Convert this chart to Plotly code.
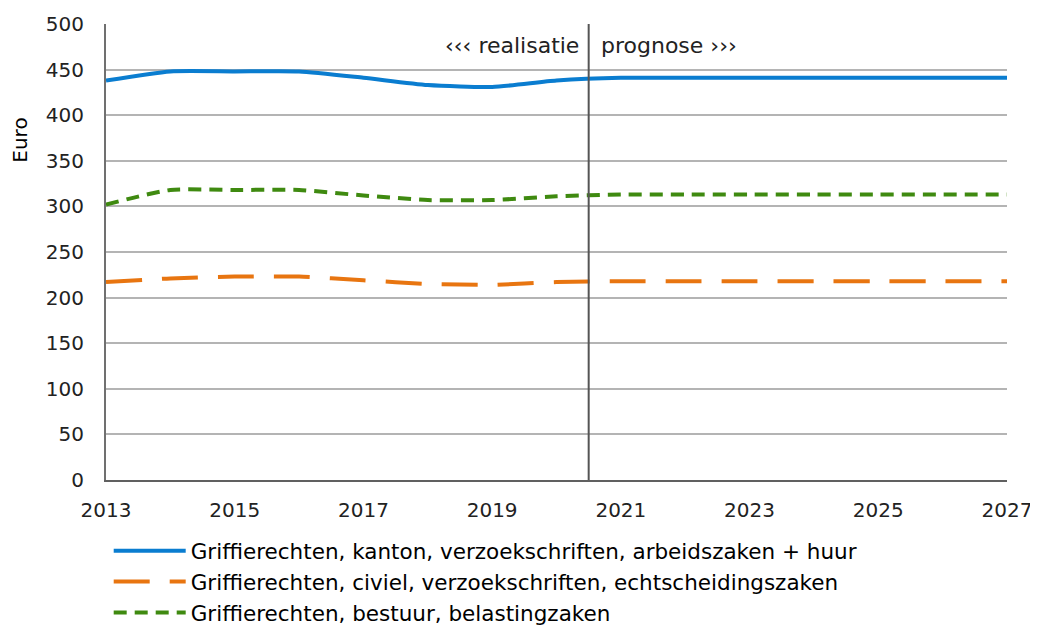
import plotly.graph_objects as go

years = list(range(2013, 2028))
kanton = [438, 448, 448, 448, 441, 433, 431, 438, 441, 441, 441, 441, 441, 441, 441]
civiel = [217, 221, 223, 223, 219, 215, 214, 217, 218, 218, 218, 218, 218, 218, 218]
bestuur = [302, 318, 318, 318, 312, 307, 307, 311, 313, 313, 313, 313, 313, 313, 313]
names = [
    "Griffierechten, kanton, verzoekschriften, arbeidszaken + huur",
    "Griffierechten, civiel, verzoekschriften, echtscheidingszaken",
    "Griffierechten, bestuur, belastingzaken",
]
x_ticks = list(range(2013, 2028, 2))
y_ticks = list(range(0, 501, 50))
split_year = 2020.5

FONT = "DejaVu Sans"
fig = go.Figure()
fig.add_trace(go.Scatter(x=years, y=kanton, name=names[0], mode="lines",
                         line=dict(color="#0a7dd0", width=4, shape="spline", smoothing=0.6)))
fig.add_trace(go.Scatter(x=years, y=civiel, name=names[1], mode="lines",
                         line=dict(color="#e87510", width=4, shape="spline", smoothing=0.6,
                                   dash="36px,20px")))
fig.add_trace(go.Scatter(x=years, y=bestuur, name=names[2], mode="lines",
                         line=dict(color="#3f8a10", width=4, shape="spline", smoothing=0.6,
                                   dash="13px,8px")))

fig.add_shape(type="line", xref="x", yref="paper", x0=split_year, x1=split_year, y0=0, y1=1,
              line=dict(color="#555555", width=2))
fig.add_annotation(x=split_year, y=1, xref="x", yref="paper", xshift=-8, yshift=-21,
                   text="‹‹‹ realisatie", showarrow=False, xanchor="right", yanchor="middle",
                   font=dict(family=FONT, size=22, color="#222"))
fig.add_annotation(x=split_year, y=1, xref="x", yref="paper", xshift=10, yshift=-21,
                   text="prognose ›››", showarrow=False, xanchor="left", yanchor="middle",
                   font=dict(family=FONT, size=22, color="#222"))
fig.add_annotation(x=-0.0956, y=0.746, xref="paper", yref="paper", text="Euro",
                   xanchor="center", yanchor="middle",
                   textangle=-90, showarrow=False, font=dict(family=FONT, size=20, color="#000"))

# page body has an 8px margin, so the figure is offset by 8px right and down
fig.update_layout(
    width=1030, height=621,
    margin=dict(l=98, r=31, t=16, b=149, autoexpand=False),
    plot_bgcolor="white", paper_bgcolor="white",
    font=dict(family=FONT, size=20, color="#000"),
    showlegend=True,
    legend=dict(x=0.003, y=-0.11, xanchor="left", yanchor="top",
                font=dict(family=FONT, size=21.5, color="#000"),
                tracegroupgap=2, itemwidth=72),
    xaxis=dict(range=[2013, 2027], tickvals=x_ticks, ticktext=[str(t) for t in x_ticks],
               showgrid=False, zeroline=False, showline=True, linecolor="#606060", linewidth=2,
               ticks="", ticklabelstandoff=11,
               tickfont=dict(family=FONT, size=20, color="#222")),
    yaxis=dict(range=[0, 500], tickvals=y_ticks, showgrid=True, gridcolor="#b4b4b4",
               gridwidth=2, zeroline=False, showline=True, linecolor="#707070", linewidth=2,
               ticks="", ticklabelstandoff=16, tickfont=dict(family=FONT, size=20, color="#222")),
)
fig.write_html("out.html")
